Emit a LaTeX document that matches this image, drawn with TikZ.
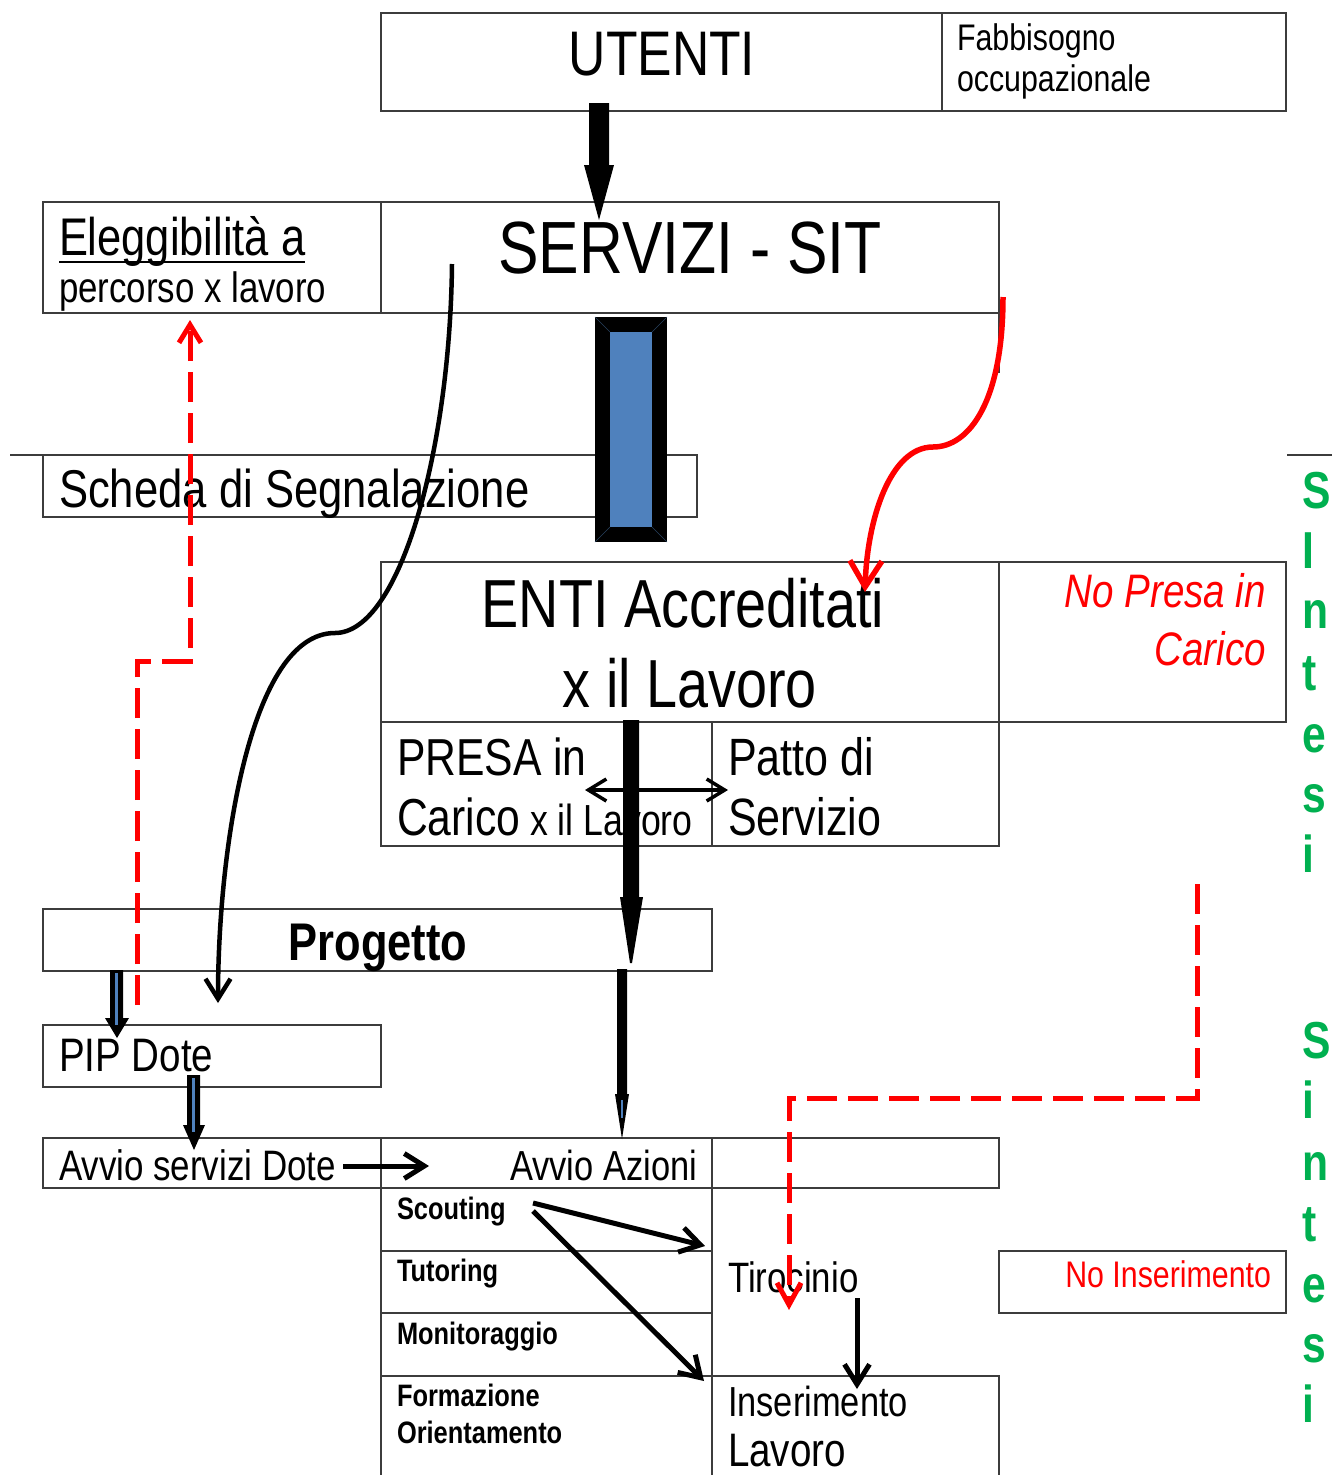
\documentclass[tikz,border=0pt]{standalone}
\usepackage{fontspec}
\setmainfont{Liberation Sans}
\newfontfamily\nar[FakeStretch=0.82]{Liberation Sans}
\usetikzlibrary{arrows.meta}
\definecolor{boxline}{HTML}{3C3C3C}
\definecolor{barblue}{HTML}{4F81BD}
\definecolor{sgreen}{HTML}{00B050}
\definecolor{rred}{HTML}{FF0000}
\newcommand{\fsz}[1]{\fontsize{#1pt}{#1pt}\selectfont}
\begin{document}
\begin{tikzpicture}[x=1pt,y=-1pt,
  cellbox/.style={draw=boxline,line width=1.6pt},
  txt/.style={inner sep=0pt,outer sep=0pt,anchor=base west},
  ctxt/.style={inner sep=0pt,outer sep=0pt,anchor=base},
  rtxt/.style={inner sep=0pt,outer sep=0pt,anchor=base east},
  sin/.style={inner sep=0pt,outer sep=0pt,anchor=base west,text=sgreen,font=\nar\bfseries\fsz{52}},
  reddash/.style={draw=rred,line width=5pt,dash pattern=on 30pt off 11pt},
  vtip/.style={-{Straight Barb[length=20pt,width=25pt]}},
]
\useasboundingbox (0,0) rectangle (1332,1475);
\fill[white] (0,0) rectangle (1332,1475);
\clip (0,0) rectangle (1332,1475);

% ---------- boxes ----------
\draw[cellbox] (381,13) rectangle (942,111);
\draw[cellbox] (942,13) rectangle (1286,111);
\draw[cellbox] (43,202) rectangle (381,313);
\draw[cellbox] (381,202) rectangle (999,313);
\draw[cellbox] (999,313) -- (999,373);
\draw[cellbox] (10,455) -- (43,455);
\draw[cellbox] (43,455) rectangle (697,517);
\draw[cellbox] (1287,455) -- (1332,455);
\draw[cellbox] (381,562) rectangle (999,722);
\draw[cellbox] (999,562) rectangle (1286,722);
\draw[cellbox] (381,722) rectangle (712,846);
\draw[cellbox] (712,722) rectangle (999,846);
\draw[cellbox] (43,909) rectangle (712,971);
\draw[cellbox] (43,1025) rectangle (381,1087);
\draw[cellbox] (43,1138) rectangle (381,1188);
\draw[cellbox] (381,1138) rectangle (712,1188);
\draw[cellbox] (712,1138) rectangle (999,1188);
\draw[cellbox] (381,1188) rectangle (712,1251);
\draw[cellbox] (381,1251) rectangle (712,1313);
\draw[cellbox] (381,1313) rectangle (712,1376);
\draw[cellbox] (381,1376) rectangle (712,1495);
\draw[cellbox] (712,1188) -- (712,1376);
\draw[cellbox] (712,1376) rectangle (999,1495);
\draw[cellbox] (999,1251) rectangle (1286,1313);

% ---------- texts ----------
\node[ctxt,font=\nar\fsz{63}] (utenti) at (662,75) {UTENTI};
\node[txt,font=\nar\fsz{37}] (fab1) at (957,50) {Fabbisogno};
\node[txt,font=\nar\fsz{37}] (fab2) at (957,91) {occupazionale};
\node[txt,font=\nar\fsz{53}] (elig1) at (59,255) {Eleggibilità a};
\draw[line width=2.4pt] ([yshift=-7pt]elig1.base west) -- ([yshift=-7pt]elig1.base east);
\node[txt,font=\nar\fsz{42.5}] (elig2) at (59,302) {percorso x lavoro};
\node[ctxt,font=\nar\fsz{74}] (servizi) at (690,273) {SERVIZI - SIT};
\node[txt,font=\nar\fsz{53.2}] (scheda) at (59,507) {Scheda di Segnalazione};
\node[ctxt,font=\nar\fsz{68}] (enti1) at (683,627) {ENTI Accreditati};
\node[ctxt,font=\nar\fsz{68}] (enti2) at (690,707) {x il Lavoro};
\node[rtxt,font=\nar\itshape\fsz{47},text=rred] (nopresa1) at (1266,607) {No Presa in};
\node[rtxt,font=\nar\itshape\fsz{47},text=rred] (nopresa2) at (1266,665) {Carico};
\node[txt,font=\nar\fsz{52}] (presa1) at (397,775) {PRESA in};
\node[txt,font=\nar\fsz{52}] (presa2) at (397,835) {Carico\fsz{43.5} x il Lavoro};
\node[txt,font=\nar\fsz{52.5}] (patto1) at (728,775) {Patto di};
\node[txt,font=\nar\fsz{52.5}] (patto2) at (728,835) {Servizio};
\node[ctxt,font=\nar\bfseries\fsz{53}] (progetto) at (378,960) {Progetto};
\node[txt,font=\nar\fsz{47}] (pip) at (59,1071) {PIP Dote};
\node[txt,font=\nar\fsz{42.6}] (avviod) at (59,1180) {Avvio servizi Dote};
\node[rtxt,font=\nar\fsz{42}] (avvioaz) at (697,1180) {Avvio Azioni};
\node[txt,font=\nar\bfseries\fsz{31}] (scout) at (397,1219) {Scouting};
\node[txt,font=\nar\bfseries\fsz{31}] (tutor) at (397,1281) {Tutoring};
\node[txt,font=\nar\bfseries\fsz{31}] (monit) at (397,1344) {Monitoraggio};
\node[txt,font=\nar\bfseries\fsz{31}] (form) at (397,1406) {Formazione};
\node[txt,font=\nar\bfseries\fsz{31}] (orient) at (397,1443) {Orientamento};
\node[txt,font=\nar\fsz{42.5}] (tiro) at (728,1292) {Tirocinio};
\node[txt,font=\nar\fsz{42}] (ins1) at (728,1416) {Inserimento};
\node[txt,font=\nar\fsz{47}] (ins2) at (728,1466) {Lavoro};
\node[rtxt,font=\nar\fsz{37}] at (1271,1287) (noins) {\textcolor{rred}{No Inserimento}};

\node[sin] (sa1) at (1302,508) {S};
\node[sin] (sa2) at (1302,568) {I};
\node[sin] (sa3) at (1302,628) {n};
\node[sin] (sa4) at (1302,690) {t};
\node[sin] (sa5) at (1302,752) {e};
\node[sin] (sa6) at (1302,812) {s};
\node[sin] (sa7) at (1302,872) {i};
\node[sin] (sb1) at (1302,1058) {S};
\node[sin] (sb2) at (1302,1118) {i};
\node[sin] (sb3) at (1302,1180) {n};
\node[sin] (sb4) at (1302,1241) {t};
\node[sin] (sb5) at (1302,1302) {e};
\node[sin] (sb6) at (1302,1362) {s};
\node[sin] (sb7) at (1302,1422) {i};

% ---------- blue bar ----------
\fill[black] (595,317) rectangle (667,542);
\fill[barblue] (610,332) rectangle (652,527);
\draw[barblue!50!black,line width=0.6pt] (595,317) -- (610,332) (667,317) -- (652,332)
  (595,542) -- (610,527) (667,542) -- (652,527);

% ---------- block arrows ----------
\fill[black] (589,103) -- (609,103) -- (609,165) -- (614,165) -- (599,220) -- (584,165) -- (589,165) -- cycle;
\fill[black] (623,720) -- (639,720) -- (639,897) -- (643,897) -- (632,963) -- (630,963) -- (620,897) -- (623,897) -- cycle;
\fill[black] (617,969) -- (627,969) -- (627,1094) -- (629,1094) -- (622,1139) -- (615,1094) -- (617,1094) -- cycle;
\draw[barblue,line width=1.5pt] (622,1100) -- (622,1118);
\fill[black] (110,970) -- (123,970) -- (123,1018) -- (129,1018) -- (117,1038) -- (105,1018) -- (110,1018) -- cycle;
\draw[barblue,line width=3pt] (116.5,973) -- (116.5,1025);
\fill[black] (187,1075) -- (200,1075) -- (200,1125) -- (205,1125) -- (194,1150) -- (183,1125) -- (187,1125) -- cycle;
\draw[barblue,line width=3pt] (193.5,1078) -- (193.5,1132);

% ---------- connectors ----------
\coordinate (cs) at (452,264);
\coordinate (cm) at (335,633);
\coordinate (ce) at (218,1003);
\draw[line width=4.5pt,vtip] (cs) .. controls (450,450) and (400,633) .. (cm)
  .. controls (250,633) and (218,850) .. (ce);

\coordinate (rs) at (1003,297);
\coordinate (rm) at (933,447);
\coordinate (re) at (865,592);
\draw[rred,line width=5.5pt,-{Straight Barb[length=26pt,width=32pt]}] (rs) .. controls (1003,400) and (970,447) .. (rm)
  .. controls (890,447) and (867,520) .. (re);

\coordinate (la) at (137,1005);
\coordinate (lb) at (137,661);
\coordinate (lc) at (190,661);
\coordinate (ld) at (190,320);
\draw[reddash,-{Straight Barb[length=18pt,width=22pt]}] (la) -- (lb) -- (lc) -- (ld);

\coordinate (ra) at (1197,884);
\coordinate (rb) at (1197,1098);
\coordinate (rc) at (789,1098);
\coordinate (rd) at (789,1310);
\draw[reddash,-{Straight Barb[length=22pt,width=24pt]}] (ra) -- (rb) -- (rc) -- (rd);

\coordinate (da) at (585,790);
\coordinate (db) at (728,790);
\draw[line width=3.5pt,{Straight Barb[length=18pt,width=22pt]}-{Straight Barb[length=18pt,width=22pt]}] (da) -- (db);

\coordinate (aa) at (343,1166);
\coordinate (ab) at (429,1166);
\draw[line width=5pt,vtip] (aa) -- (ab);

\coordinate (sa) at (533,1203);
\coordinate (sb) at (705,1246);
\coordinate (sc) at (533,1211);
\coordinate (sd) at (704,1381);
\draw[line width=5pt,vtip] (sa) -- (sb);
\draw[line width=5pt,vtip] (sc) -- (sd);

\coordinate (ta) at (857,1298);
\coordinate (tb) at (857,1389);
\draw[line width=5pt,vtip] (ta) -- (tb);
\end{tikzpicture}
\end{document}
